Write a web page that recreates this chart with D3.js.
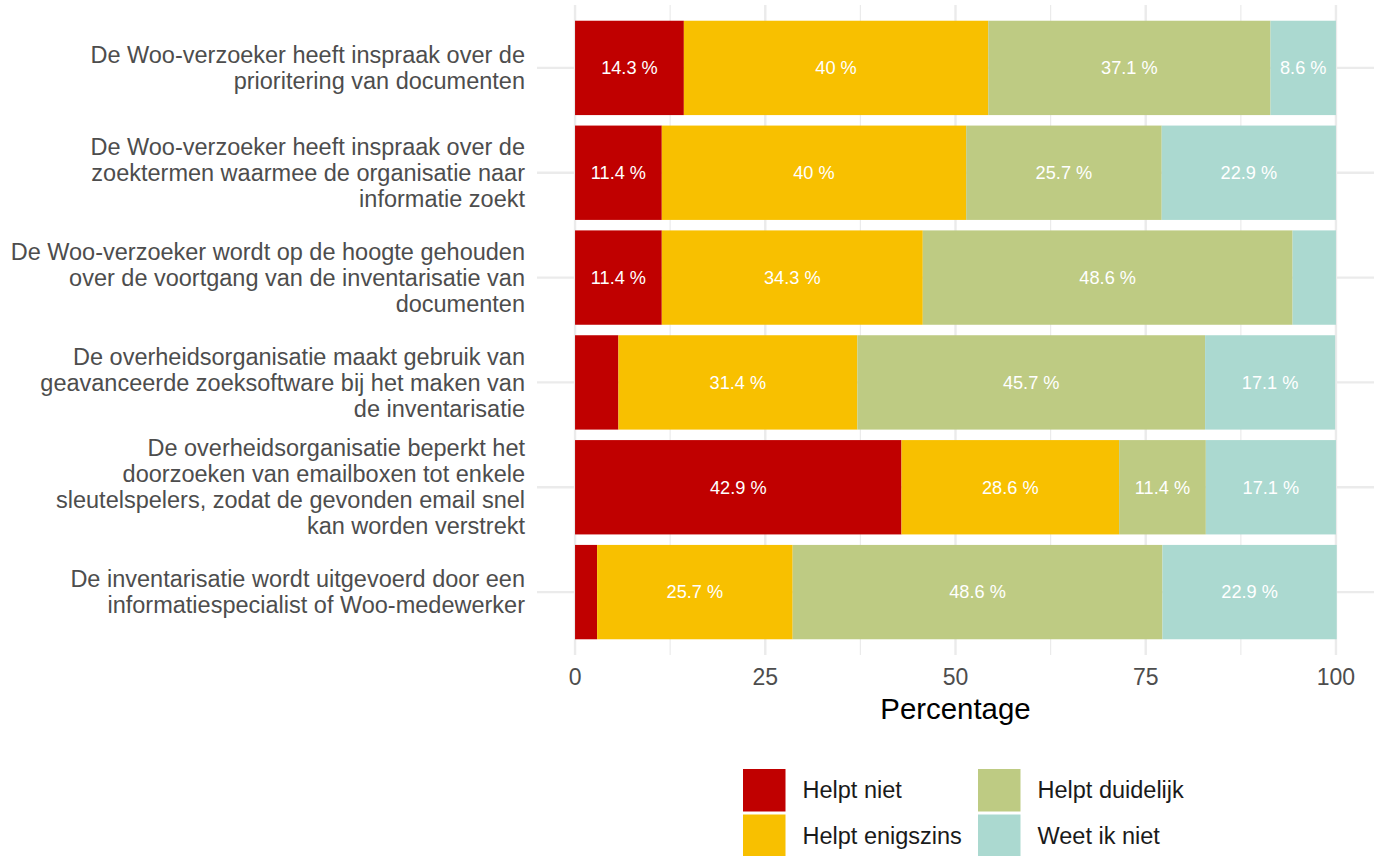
<!DOCTYPE html>
<html>
<head>
<meta charset="utf-8">
<title>Woo-verzoek stellingen</title>
<script src="https://d3js.org/d3.v7.min.js"></script>
<style>
  body { margin: 0; background: #fff; }
  text { font-family: Arial, "Liberation Sans", sans-serif; }
</style>
</head>
<body>
<div id="chart"></div>
<script>
// categories (top to bottom), each label split into lines
var statements = [
  ["De Woo-verzoeker heeft inspraak over de", "prioritering van documenten"],
  ["De Woo-verzoeker heeft inspraak over de", "zoektermen waarmee de organisatie naar", "informatie zoekt"],
  ["De Woo-verzoeker wordt op de hoogte gehouden", "over de voortgang van de inventarisatie van", "documenten"],
  ["De overheidsorganisatie maakt gebruik van", "geavanceerde zoeksoftware bij het maken van", "de inventarisatie"],
  ["De overheidsorganisatie beperkt het", "doorzoeken van emailboxen tot enkele", "sleutelspelers, zodat de gevonden email snel", "kan worden verstrekt"],
  ["De inventarisatie wordt uitgevoerd door een", "informatiespecialist of Woo-medewerker"]
];
var answers = ["Helpt niet", "Helpt enigszins", "Helpt duidelijk", "Weet ik niet"];
var colors = ["#C00000", "#F8C000", "#BECB83", "#ABD9D0"];

// percentages per answer, same order as statements
var helptNiet       = [14.3, 11.4, 11.4, 5.7, 42.9, 2.9];
var helptEnigszins  = [40,   40,   34.3, 31.4, 28.6, 25.7];
var helptDuidelijk  = [37.1, 25.7, 48.6, 45.7, 11.4, 48.6];
var weetIkNiet      = [8.6,  22.9, 5.7,  17.1, 17.1, 22.9];

var xTicks = [0, 25, 50, 75, 100];

var W = 1380, H = 856;
var svg = d3.select("#chart").append("svg").attr("width", W).attr("height", H);

var panel = {left: 537, right: 1374, top: 5, bottom: 655};

var x = d3.scaleLinear().domain([-5, 105]).range([panel.left, panel.right]);
var ids = d3.range(statements.length);
var y = d3.scaleBand().domain(ids).range([panel.top, panel.bottom])
  .paddingInner(0.1).paddingOuter(0.15);

// grid
var g = svg.append("g");
g.selectAll(".minor").data([12.5, 37.5, 62.5, 87.5]).enter().append("line")
  .attr("x1", d => x(d)).attr("x2", d => x(d))
  .attr("y1", panel.top).attr("y2", panel.bottom)
  .attr("stroke", "#ebebeb").attr("stroke-width", 1.2);
g.selectAll(".major").data(xTicks).enter().append("line")
  .attr("x1", d => x(d)).attr("x2", d => x(d))
  .attr("y1", panel.top).attr("y2", panel.bottom)
  .attr("stroke", "#ebebeb").attr("stroke-width", 2.4);
g.selectAll(".hmajor").data(ids).enter().append("line")
  .attr("x1", panel.left).attr("x2", panel.right)
  .attr("y1", d => y(d) + y.bandwidth() / 2).attr("y2", d => y(d) + y.bandwidth() / 2)
  .attr("stroke", "#ebebeb").attr("stroke-width", 2.4);

// stacked data
var rows = ids.map(function(i) {
  return {id: i, "Helpt niet": helptNiet[i], "Helpt enigszins": helptEnigszins[i],
          "Helpt duidelijk": helptDuidelijk[i], "Weet ik niet": weetIkNiet[i]};
});
var series = d3.stack().keys(answers)(rows);

var layers = svg.append("g").selectAll("g").data(series).enter().append("g")
  .attr("fill", (d, i) => colors[i]);
layers.selectAll("rect").data(d => d).enter().append("rect")
  .attr("x", d => x(d[0]))
  .attr("width", d => x(d[1]) - x(d[0]))
  .attr("y", d => y(d.data.id))
  .attr("height", y.bandwidth());

var labels = svg.append("g");
series.forEach(function(s) {
  s.forEach(function(d) {
    var val = d.data[s.key];
    if (val < 8) return;
    labels.append("text")
      .attr("x", x((d[0] + d[1]) / 2))
      .attr("y", y(d.data.id) + y.bandwidth() / 2)
      .attr("dy", "0.35em")
      .attr("text-anchor", "middle")
      .attr("fill", "#fff")
      .attr("font-size", 18.2)
      .text(val + " %");
  });
});

// y axis labels
var ylab = svg.append("g");
ids.forEach(function(i) {
  var lines = statements[i];
  var cy = y(i) + y.bandwidth() / 2;
  var lh = 26;
  var t = ylab.append("text")
    .attr("text-anchor", "end")
    .attr("fill", "#4d4d4d")
    .attr("font-size", 23.5);
  lines.forEach(function(l, k) {
    t.append("tspan")
      .attr("x", 525)
      .attr("y", cy + (k - (lines.length - 1) / 2) * lh)
      .attr("dy", "0.35em")
      .text(l);
  });
});

// x axis tick labels
svg.append("g").selectAll("text").data(xTicks).enter().append("text")
  .attr("x", d => x(d)).attr("y", 677).attr("dy", "0.35em")
  .attr("text-anchor", "middle").attr("fill", "#4d4d4d").attr("font-size", 23)
  .text(d => d);

svg.append("text")
  .attr("x", (panel.left + panel.right) / 2).attr("y", 709).attr("dy", "0.35em")
  .attr("text-anchor", "middle").attr("fill", "#000").attr("font-size", 29.4)
  .text("Percentage");

// legend
var key = 42.5, gap = 2;
var legend = svg.append("g");
answers.forEach(function(a, i) {
  var col = Math.floor(i / 2), row = i % 2;
  var kx = 743 + col * 235, ky = 769 + row * (key + gap + 1);
  legend.append("rect").attr("x", kx).attr("y", ky)
    .attr("width", key).attr("height", key).attr("fill", colors[i]);
  legend.append("text").attr("x", kx + key + 17).attr("y", ky + key / 2)
    .attr("dy", "0.35em").attr("fill", "#1a1a1a").attr("font-size", 23.5)
    .text(a);
});
</script>
</body>
</html>
